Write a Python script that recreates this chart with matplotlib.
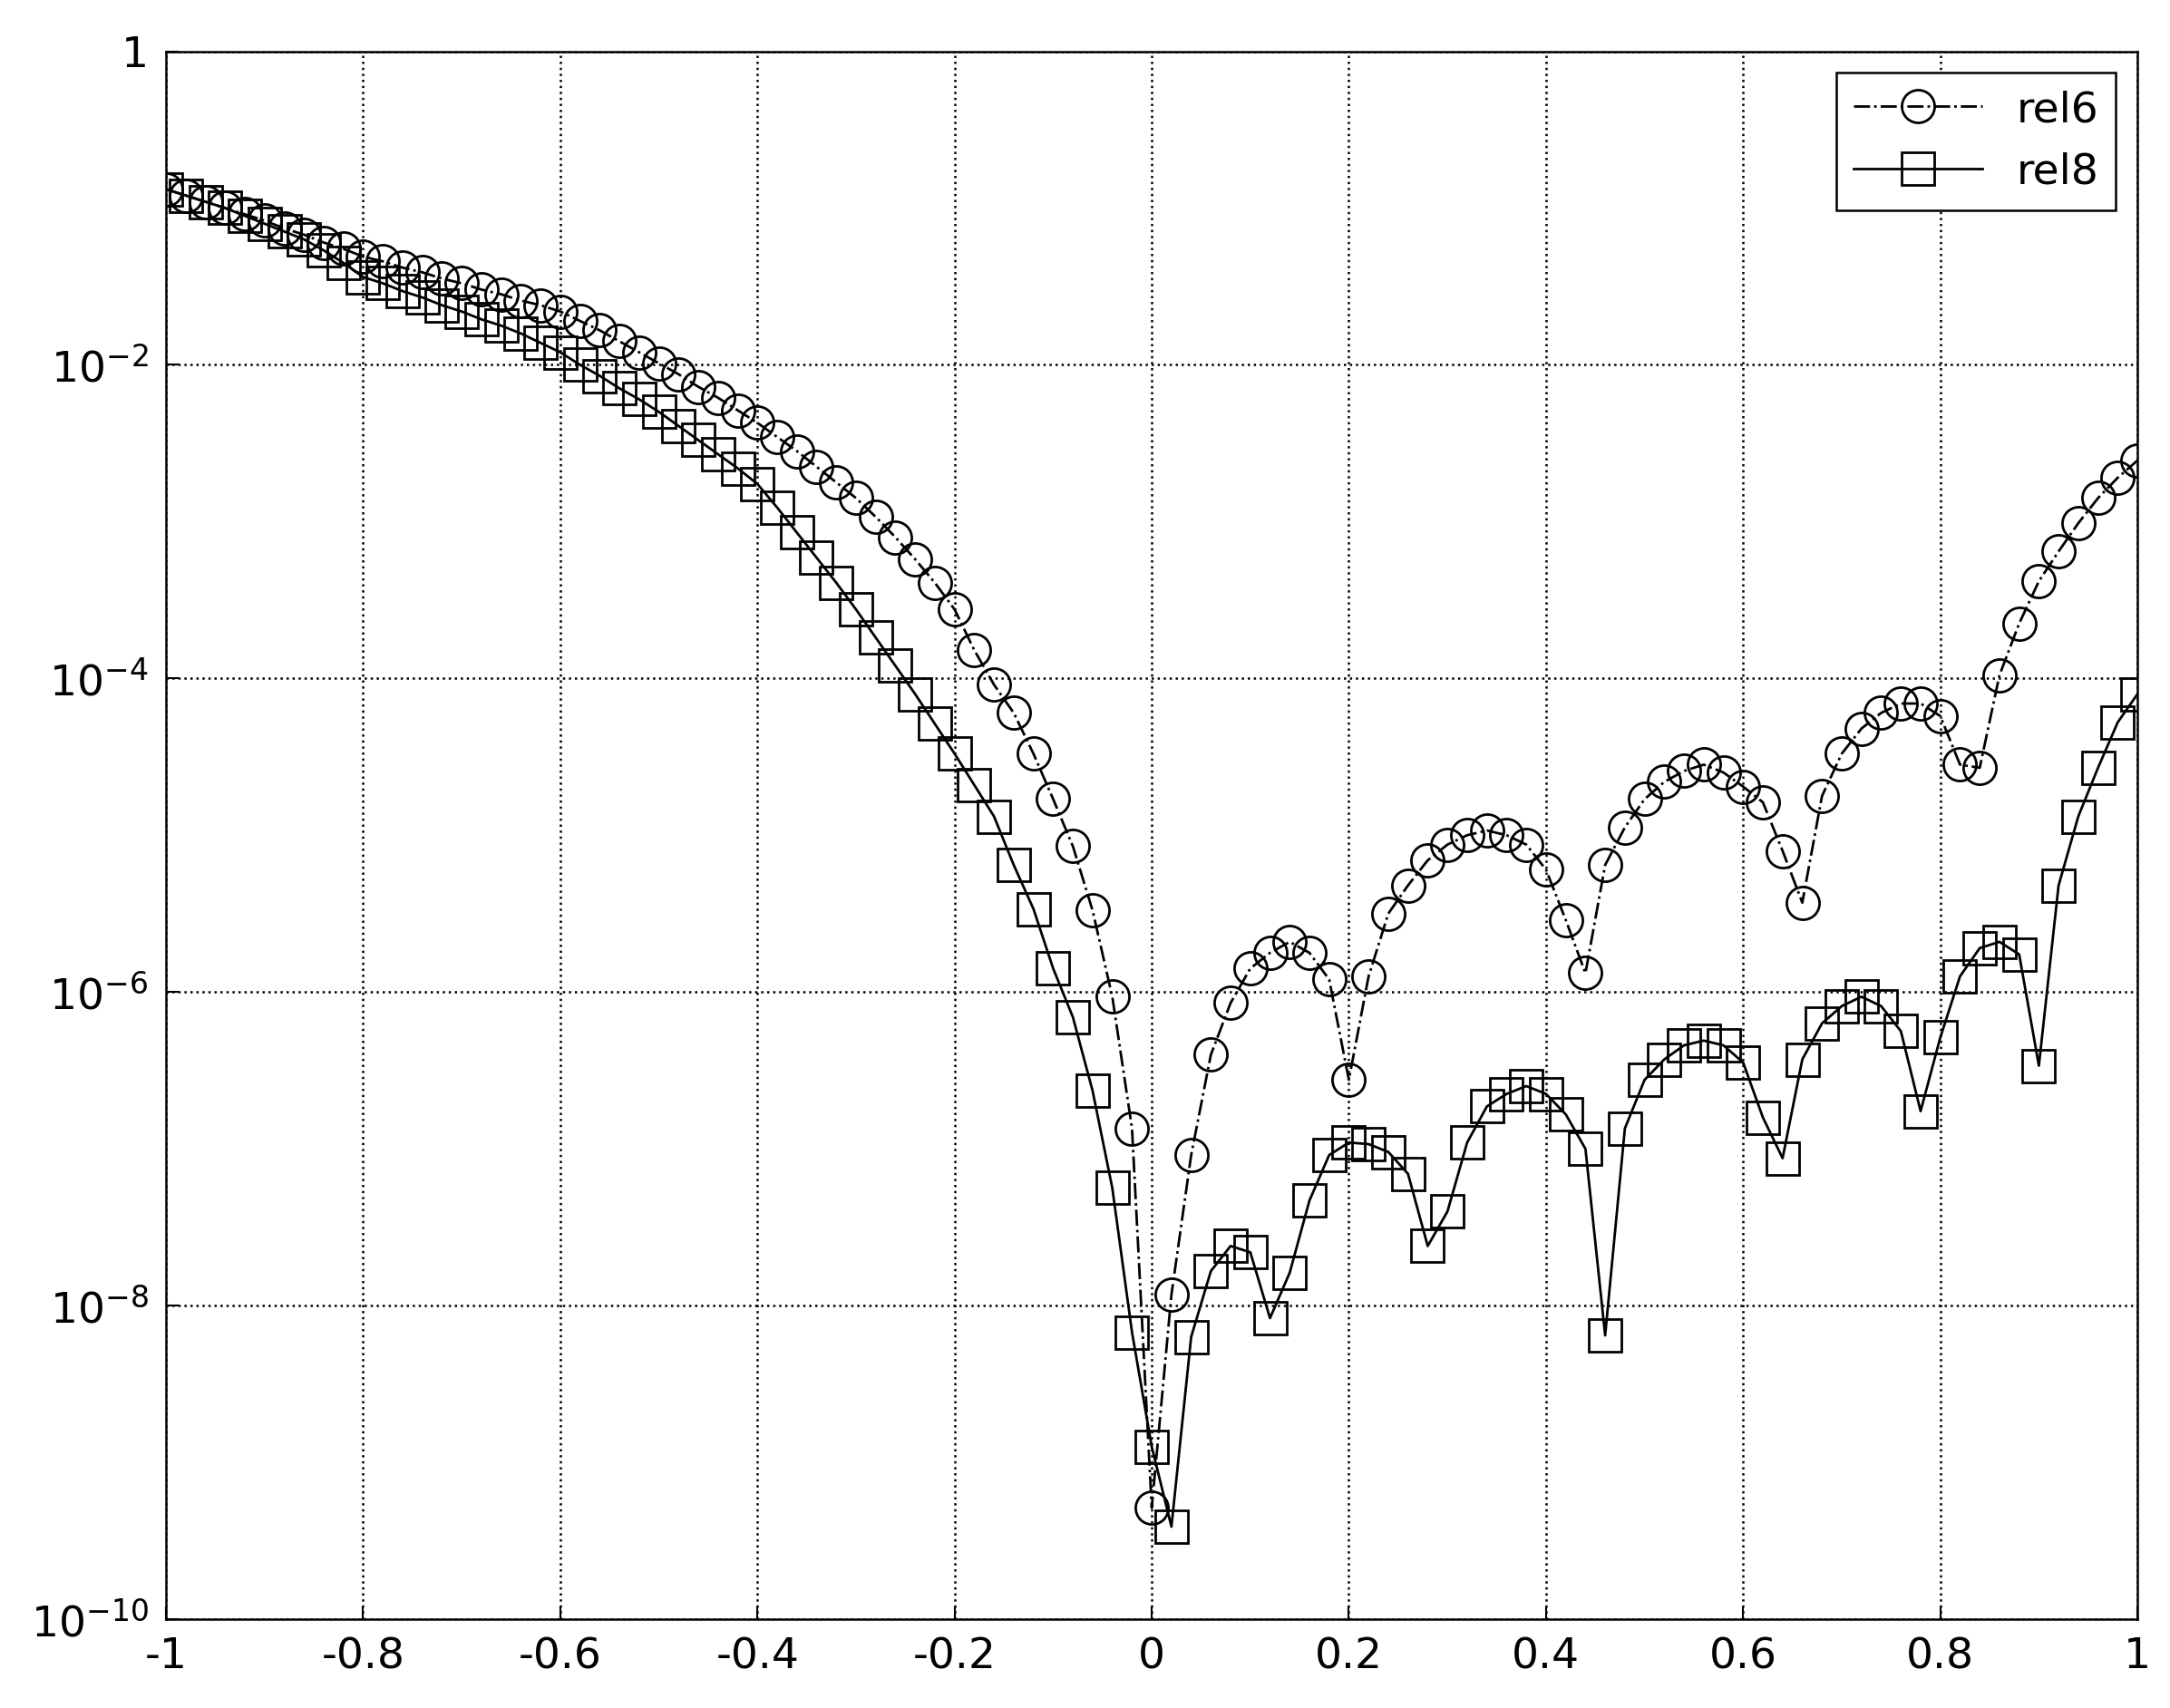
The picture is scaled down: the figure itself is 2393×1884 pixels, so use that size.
import numpy as np
import matplotlib.pyplot as plt

x = np.round(np.linspace(-1, 1, 101), 2)

# log10 of rel6 (circles)
rel6_log = [
    -0.88, -0.92, -0.96, -1.00, -1.04, -1.08, -1.13, -1.17, -1.22, -1.26,
    -1.31, -1.34, -1.38, -1.41, -1.45, -1.48, -1.52, -1.55, -1.59, -1.62,
    -1.66, -1.72, -1.78, -1.85, -1.92, -1.99, -2.06, -2.14, -2.21, -2.29,
    -2.37, -2.46, -2.55, -2.65, -2.75, -2.85, -2.97, -3.10, -3.24, -3.39,
    -3.56, -3.82, -4.04, -4.22, -4.48, -4.77, -5.07, -5.48, -6.03, -6.87,
    -9.29, -7.93, -7.04, -6.40, -6.07, -5.85, -5.75, -5.68, -5.75, -5.92,
    -6.56, -5.90, -5.50, -5.32, -5.16, -5.06, -5.00, -4.97, -5.00, -5.06,
    -5.22, -5.54, -5.88, -5.19, -4.95, -4.77, -4.66, -4.59, -4.55, -4.60,
    -4.69, -4.79, -5.10, -5.43, -4.75, -4.48, -4.32, -4.22, -4.16, -4.16,
    -4.24, -4.55, -4.57, -3.98, -3.65, -3.38, -3.19, -3.01, -2.85, -2.72,
    -2.61,
]

# log10 of rel8 (squares)
rel8_log = [
    -0.88, -0.92, -0.96, -1.00, -1.05, -1.10, -1.15, -1.20, -1.27, -1.35,
    -1.44, -1.48, -1.53, -1.57, -1.62, -1.66, -1.71, -1.75, -1.80, -1.86,
    -1.92, -2.00, -2.07, -2.15, -2.22, -2.30, -2.39, -2.48, -2.57, -2.66,
    -2.76, -2.91, -3.07, -3.23, -3.39, -3.56, -3.74, -3.92, -4.10, -4.29,
    -4.48, -4.68, -4.88, -5.19, -5.47, -5.85, -6.16, -6.63, -7.25, -8.17,
    -8.90, -9.41, -8.20, -7.78, -7.62, -7.66, -8.08, -7.79, -7.33, -7.04,
    -6.96, -6.97, -7.02, -7.16, -7.62, -7.40, -6.96, -6.73, -6.65, -6.60,
    -6.65, -6.78, -7.00, -8.19, -6.87, -6.56, -6.43, -6.34, -6.31, -6.34,
    -6.45, -6.80, -7.06, -6.43, -6.20, -6.09, -6.03, -6.09, -6.25, -6.76,
    -6.29, -5.90, -5.72, -5.68, -5.76, -6.47, -5.32, -4.88, -4.57, -4.28,
    -4.10,
]

rel6 = 10.0 ** np.array(rel6_log)
rel8 = 10.0 ** np.array(rel8_log)

fig = plt.figure(figsize=(23.93, 18.84), dpi=100)
ax = fig.add_axes([0.0765, 0.052, 0.9085, 0.918])

ax.semilogy(x, rel6, '-.', color='black', lw=2, marker='o', ms=26,
            mfc='none', mec='black', mew=2, label='rel6')
ax.semilogy(x, rel8, '-', color='black', lw=2, marker='s', ms=26,
            mfc='none', mec='black', mew=2, label='rel8')

ax.set_xlim(-1, 1)
ax.set_ylim(1e-10, 1)
ax.set_xticks(np.arange(-1, 1.01, 0.2))
ax.set_xticklabels(['-1', '-0.8', '-0.6', '-0.4', '-0.2', '0', '0.2', '0.4', '0.6', '0.8', '1'])
ax.set_yticks([1e-10, 1e-8, 1e-6, 1e-4, 1e-2, 1])
ax.set_yticklabels([r'$10^{-10}$', r'$10^{-8}$', r'$10^{-6}$', r'$10^{-4}$', r'$10^{-2}$', '1'])
ax.minorticks_off()
ax.tick_params(labelsize=34, direction='in', length=10, width=1.5, pad=14)
ax.grid(True, which='major', ls=':', color='black', lw=1.8)
for s in ax.spines.values():
    s.set_linewidth(1.8)

leg = ax.legend(loc='upper right', fontsize=34, fancybox=False, edgecolor='black',
                framealpha=1, handlelength=3)
leg.get_frame().set_linewidth(1.8)

fig.savefig('out.png', dpi=100)
